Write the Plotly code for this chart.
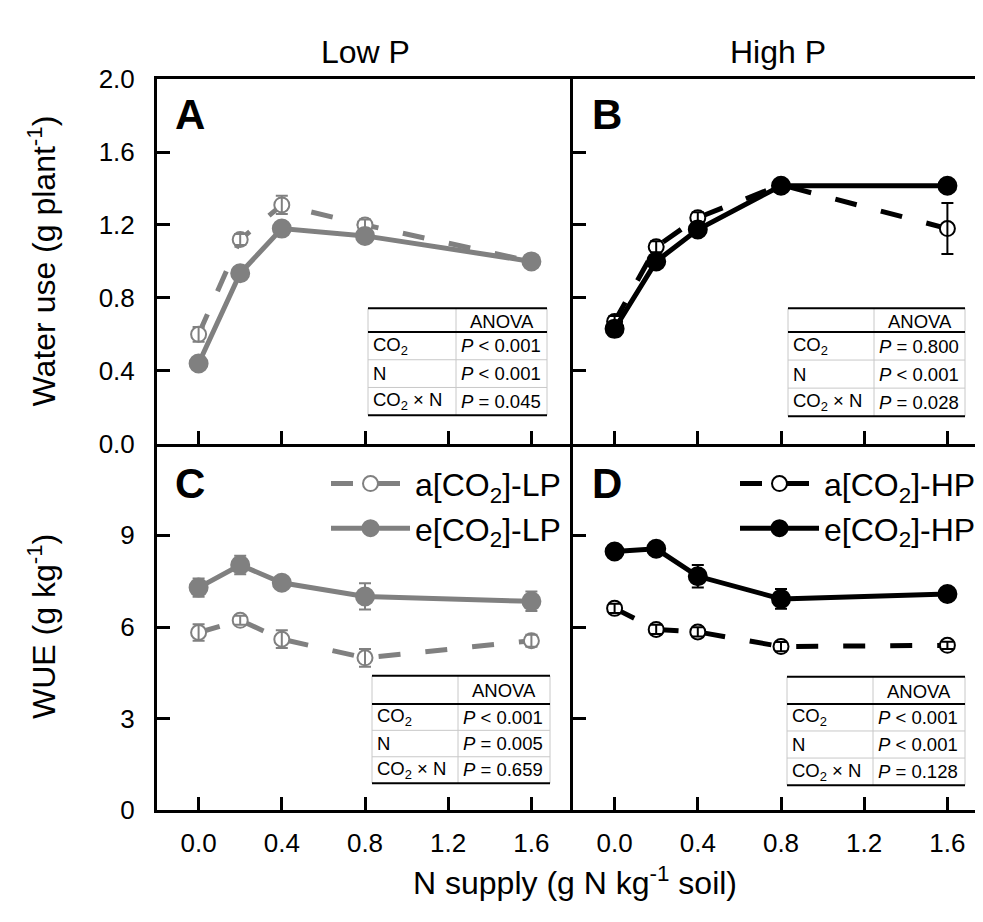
import plotly.graph_objects as go

# ---------------- data ----------------
n_supply = [0.0, 0.2, 0.4, 0.8, 1.6]

# Water use (g plant-1)
wu_a_LP = [0.60, 1.12, 1.31, 1.20, 1.00]
wu_a_LP_err = [0.04, 0.03, 0.05, 0.03, 0.02]
wu_e_LP = [0.44, 0.935, 1.18, 1.14, 1.00]
wu_e_LP_err = [0.02, 0.02, 0.02, 0.02, 0.02]
wu_a_HP = [0.67, 1.08, 1.24, 1.42, 1.18]
wu_a_HP_err = [0.03, 0.03, 0.03, 0.03, 0.14]
wu_e_HP = [0.63, 1.00, 1.175, 1.415, 1.415]
wu_e_HP_err = [0.04, 0.02, 0.02, 0.03, 0.02]

# WUE (g kg-1)
wue_a_LP = [5.82, 6.22, 5.60, 4.99, 5.55]
wue_a_LP_err = [0.27, 0.15, 0.29, 0.29, 0.20]
wue_e_LP = [7.29, 8.03, 7.45, 7.00, 6.84]
wue_e_LP_err = [0.30, 0.30, 0.15, 0.43, 0.32]
wue_a_HP = [6.61, 5.92, 5.84, 5.36, 5.40]
wue_a_HP_err = [0.15, 0.15, 0.15, 0.15, 0.12]
wue_e_HP = [8.47, 8.56, 7.66, 6.92, 7.08]
wue_e_HP_err = [0.10, 0.10, 0.37, 0.32, 0.10]

x_ticks = [0.0, 0.4, 0.8, 1.2, 1.6]
x_tick_labels = ["0.0", "0.4", "0.8", "1.2", "1.6"]
wu_ticks = [0.0, 0.4, 0.8, 1.2, 1.6, 2.0]
wu_tick_labels = ["0.0", "0.4", "0.8", "1.2", "1.6", "2.0"]
wue_ticks = [0, 3, 6, 9, 12]
wue_tick_labels = ["0", "3", "6", "9", ""]

anova_rows = ["CO<sub>2</sub>", "N", "CO<sub>2</sub> × N"]
anova_A = ["<i>P</i> &lt; 0.001", "<i>P</i> &lt; 0.001", "<i>P</i> = 0.045"]
anova_B = ["<i>P</i> = 0.800", "<i>P</i> &lt; 0.001", "<i>P</i> = 0.028"]
anova_C = ["<i>P</i> &lt; 0.001", "<i>P</i> = 0.005", "<i>P</i> = 0.659"]
anova_D = ["<i>P</i> &lt; 0.001", "<i>P</i> &lt; 0.001", "<i>P</i> = 0.128"]

names_LP = ["a[CO<sub>2</sub>]-LP", "e[CO<sub>2</sub>]-LP"]
names_HP = ["a[CO<sub>2</sub>]-HP", "e[CO<sub>2</sub>]-HP"]

# ---------------- layout geometry (screen pixels) ----------------
OFF = 8                      # default page body margin
W, H = 983 - OFF, 922 - OFF
L, M, R = 157, 573, 983
T, MID, B = 66, 443, 822
FONT = "Liberation Sans, Arial, sans-serif"
GRAY = "#808080"
BLACK = "#000000"


def px(x):
    return (x - OFF) / W


def py(y):
    return 1 - (y - OFF) / H


fig = go.Figure()


def line_trace(xa, ya, y, err, color, filled, name, legend, showlegend):
    fig.add_trace(go.Scatter(
        x=n_supply, y=y, xaxis=xa, yaxis=ya, name=name,
        mode="lines+markers",
        line=dict(color=color, width=5, dash="solid" if filled else "22px,25px"),
        marker=dict(symbol="circle", size=18 if filled else 15,
                    color=color if filled else "white",
                    line=dict(color=color, width=2)),
        error_y=dict(type="data", array=err, visible=err is not None, color=color,
                     thickness=2, width=6),
        legend=legend, showlegend=showlegend,
    ))


def err_overlay(xa, ya, y, err, color):
    fig.add_trace(go.Scatter(
        x=n_supply, y=y, xaxis=xa, yaxis=ya, mode="markers",
        marker=dict(size=1, opacity=0),
        error_y=dict(type="data", array=err, visible=True, color=color,
                     thickness=2, width=6),
        showlegend=False, hoverinfo="skip",
    ))


def panel(xa, ya, ya_vals, ya_err, e_vals, e_err, color, names, legend, showlegend):
    line_trace(xa, ya, ya_vals, None, color, False, names[0], legend, showlegend)
    line_trace(xa, ya, e_vals, e_err, color, True, names[1], legend, showlegend)
    err_overlay(xa, ya, ya_vals, ya_err, color)


panel("x", "y", wu_a_LP, wu_a_LP_err, wu_e_LP, wu_e_LP_err, GRAY, names_LP, "legend", False)
panel("x2", "y2", wu_a_HP, wu_a_HP_err, wu_e_HP, wu_e_HP_err, BLACK, names_HP, "legend2", False)
panel("x3", "y3", wue_a_LP, wue_a_LP_err, wue_e_LP, wue_e_LP_err, GRAY, names_LP, "legend", True)
panel("x4", "y4", wue_a_HP, wue_a_HP_err, wue_e_HP, wue_e_HP_err, BLACK, names_HP, "legend2", True)

tickfont = dict(family=FONT, size=26, color="black")
unit_px = (M - L) / 2.0
xr_left = [-0.2, 1.8]
xr_right = [-0.2, -0.2 + (R - M) / unit_px]


def xaxis_cfg(domain, rng, anchor, labels, mirror):
    return dict(domain=domain, range=rng, anchor=anchor, showgrid=False, zeroline=False,
                showline=True, linecolor="black", linewidth=3, mirror=mirror,
                ticks="inside", ticklen=13, tickwidth=2.5, tickcolor="black",
                tickvals=x_ticks, ticktext=x_tick_labels, showticklabels=labels,
                tickfont=tickfont, ticklabelstandoff=8)


def yaxis_cfg(domain, rng, anchor, vals, text, labels, mirror):
    return dict(domain=domain, range=rng, anchor=anchor, showgrid=False, zeroline=False,
                showline=True, linecolor="black", linewidth=3, mirror=mirror,
                ticks="inside", ticklen=13, tickwidth=2.5, tickcolor="black",
                tickvals=vals, ticktext=text, showticklabels=labels,
                tickfont=tickfont, ticklabelstandoff=14)


xdomL = [px(L), px(M)]
xdomR = [px(M), px(R)]
ydomT = [py(MID), py(T)]
ydomB = [py(B), py(MID)]

legend_font = dict(family=FONT, size=32, color="black")

fig.update_layout(
    width=W, height=H, margin=dict(l=0, r=0, t=0, b=0),
    paper_bgcolor="white", plot_bgcolor="white",
    font=dict(family=FONT, color="black"),
    xaxis=xaxis_cfg(xdomL, xr_left, "y", False, True),
    xaxis2=xaxis_cfg(xdomR, xr_right, "y2", False, True),
    xaxis3=xaxis_cfg(xdomL, xr_left, "y3", True, False),
    xaxis4=xaxis_cfg(xdomR, xr_right, "y4", True, False),
    yaxis=yaxis_cfg(ydomT, [0, 2.0], "x", wu_ticks, wu_tick_labels, True, False),
    yaxis2=yaxis_cfg(ydomT, [0, 2.0], "x2", wu_ticks, wu_tick_labels, False, False),
    yaxis3=yaxis_cfg(ydomB, [0, 12], "x3", wue_ticks, wue_tick_labels, True, False),
    yaxis4=yaxis_cfg(ydomB, [0, 12], "x4", wue_ticks, wue_tick_labels, False, False),
    legend=dict(x=px(566), y=py(456), xanchor="right", yanchor="top",
                bgcolor="rgba(0,0,0,0)", font=legend_font, itemwidth=79,
                traceorder="normal", tracegroupgap=0),
    legend2=dict(x=px(981), y=py(456), xanchor="right", yanchor="top",
                 bgcolor="rgba(0,0,0,0)", font=legend_font, itemwidth=79,
                 traceorder="normal", tracegroupgap=0),
)

shapes = []
annotations = []


def note(text, x, y, size, xanchor="center", yanchor="middle", angle=0):
    annotations.append(dict(text=text, x=px(x), y=py(y), xref="paper", yref="paper",
                            xanchor=xanchor, yanchor=yanchor, textangle=angle,
                            showarrow=False, font=dict(family=FONT, size=size, color="black")))


# Panel titles / letters
note("Low P", (L + M) / 2, 38, 32)
note("High P", (M + R) / 2, 38, 32)
for letter, xx, yy in [("A", 173, 103), ("B", 590, 103), ("C", 173, 484), ("D", 590, 484)]:
    note("<b>%s</b>" % letter, xx, yy, 42, xanchor="left")

# Axis titles
note("Water use (g plant<sup>-1</sup>)", 42, (T + MID) / 2, 32, angle=-90)
note("WUE (g kg<sup>-1</sup>)", 42, (MID + B) / 2, 32, angle=-90)
note("N supply (g N kg<sup>-1</sup> soil)", 575, 895, 32)


def add_table(x0, xd, x1, y0, yh, y1, values):
    lg = "#c8c8c8"

    def line(xa, ya, xb, yb, color, width):
        shapes.append(dict(type="line", xref="paper", yref="paper",
                           x0=px(xa), y0=py(ya), x1=px(xb), y1=py(yb),
                           line=dict(color=color, width=width)))
    rh = (y1 - yh) / 3.0
    line(x0, y0, x0, y1, lg, 1)
    line(x1, y0, x1, y1, lg, 1)
    line(xd, y0, xd, y1, lg, 1)
    for i in range(1, 3):
        line(x0, yh + i * rh, x1, yh + i * rh, lg, 1)
    line(x0, y0, x1, y0, "black", 2)
    line(x0, yh, x1, yh, "black", 2)
    line(x0, y1, x1, y1, "black", 2)
    note("ANOVA", (xd + x1) / 2, (y0 + yh) / 2 + 1, 18.5)
    for i in range(3):
        yc = yh + (i + 0.5) * rh
        note(anova_rows[i], x0 + 3, yc, 18.5, xanchor="left")
        note(values[i], xd + 3, yc, 18.5, xanchor="left")


add_table(368, 456, 547, 303, 327.5, 413.5, anova_A)
add_table(788, 874, 965, 303, 327.5, 414.5, anova_B)
add_table(372, 458, 550, 683, 712, 794, anova_C)
add_table(787, 873, 965, 684, 712, 796, anova_D)

fig.update_layout(shapes=shapes, annotations=annotations)

fig.write_html("out.html")
